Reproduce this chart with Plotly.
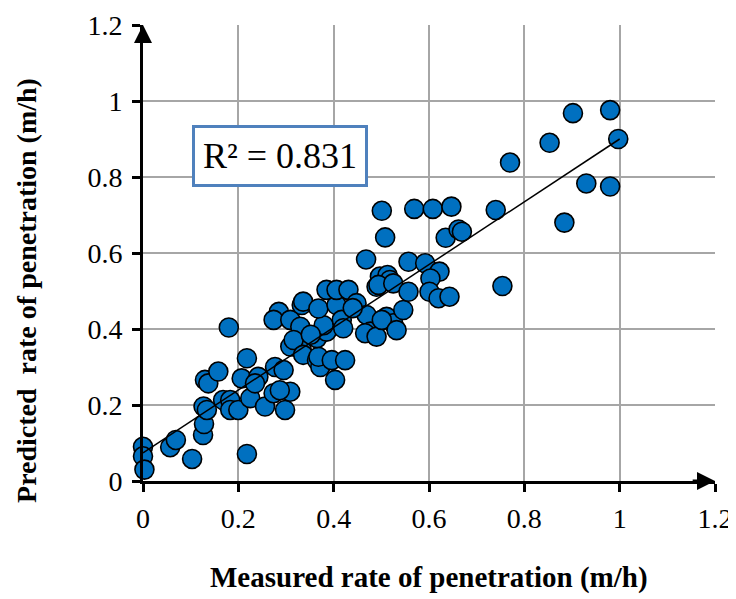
import plotly.graph_objects as go

# Measured vs predicted rate of penetration (m/h)
measured = [
    0.000, 0.000, 0.003, 0.057, 0.069, 0.103, 0.126, 0.128, 0.127, 0.134,
    0.130, 0.137, 0.158, 0.168, 0.183, 0.183, 0.200, 0.180, 0.207, 0.218,
    0.218, 0.225, 0.242, 0.235, 0.256, 0.274, 0.277, 0.295, 0.298, 0.309,
    0.287, 0.285, 0.274, 0.309, 0.330, 0.333, 0.316, 0.333, 0.309, 0.316,
    0.336, 0.336, 0.365, 0.372, 0.368, 0.396, 0.424, 0.403, 0.365, 0.385,
    0.379, 0.368, 0.406, 0.417, 0.420, 0.385, 0.406, 0.431, 0.448, 0.469,
    0.477, 0.466, 0.490, 0.490, 0.468, 0.511, 0.525, 0.501, 0.532, 0.546,
    0.497, 0.513, 0.518, 0.494, 0.525, 0.501, 0.508, 0.557, 0.592, 0.622,
    0.603, 0.557, 0.601, 0.620, 0.643, 0.569, 0.608, 0.647, 0.635, 0.662,
    0.669, 0.740, 0.754, 0.770, 0.853, 0.902, 0.980, 0.997, 0.930, 0.980,
    0.884, 0.352, 0.440,
]
predicted = [
    0.090, 0.065, 0.030, 0.089, 0.108, 0.058, 0.121, 0.150, 0.196, 0.187,
    0.266, 0.257, 0.288, 0.213, 0.213, 0.187, 0.187, 0.404, 0.270, 0.323,
    0.071, 0.218, 0.274, 0.257, 0.196, 0.231, 0.300, 0.292, 0.187, 0.235,
    0.239, 0.445, 0.424, 0.424, 0.406, 0.463, 0.354, 0.345, 0.354, 0.371,
    0.472, 0.332, 0.318, 0.300, 0.327, 0.318, 0.318, 0.266, 0.376, 0.393,
    0.410, 0.454, 0.463, 0.424, 0.402, 0.503, 0.503, 0.503, 0.468, 0.437,
    0.393, 0.389, 0.380, 0.511, 0.583, 0.432, 0.415, 0.424, 0.397, 0.450,
    0.538, 0.542, 0.529, 0.516, 0.520, 0.711, 0.641, 0.577, 0.573, 0.551,
    0.533, 0.498, 0.498, 0.481, 0.485, 0.716, 0.716, 0.722, 0.640, 0.662,
    0.656, 0.713, 0.513, 0.838, 0.890, 0.968, 0.976, 0.900, 0.783, 0.775,
    0.680, 0.385, 0.455,
]

# Linear trend line endpoints
trend_x = [0.0, 1.0]
trend_y = [0.074, 0.900]

r2_label = "R² = 0.831"
tick_vals = [0, 0.2, 0.4, 0.6, 0.8, 1.0, 1.2]
tick_text = ["0", "0.2", "0.4", "0.6", "0.8", "1", "1.2"]

serif = "Liberation Serif"

fig = go.Figure()
fig.add_trace(go.Scatter(
    x=measured, y=predicted, mode="markers",
    marker=dict(size=19, color="#0070C0", line=dict(color="black", width=1.6)),
    showlegend=False, cliponaxis=False,
))
fig.add_trace(go.Scatter(
    x=trend_x, y=trend_y, mode="lines",
    line=dict(color="black", width=1.5), showlegend=False,
))

axis_common = dict(
    range=[0, 1.2], tickvals=tick_vals, ticktext=tick_text,
    showgrid=True, gridcolor="#A6A6A6", gridwidth=1.5,
    zeroline=False, showline=True, linecolor="black", linewidth=3,
    ticks="outside", ticklen=8, tickwidth=3, tickcolor="black",
    tickfont=dict(family=serif, size=28, color="black"),
    automargin=False,
)
fig.update_xaxes(**axis_common, ticklabelstandoff=2)
fig.update_yaxes(**axis_common, ticklabelstandoff=4)

fig.update_layout(
    width=728, height=591,
    margin=dict(l=135, r=21, t=17, b=118),
    paper_bgcolor="white", plot_bgcolor="white",
    font=dict(family=serif, size=28, color="black"),
    annotations=[
        dict(x=0.2866, y=0.855, xref="x", yref="y", text=r2_label, showarrow=False,
             font=dict(family=serif, size=36, color="black"),
             bordercolor="#4F81BD", borderwidth=3, borderpad=8, bgcolor="white"),
        dict(x=0.5, y=-0.2127, xref="paper", yref="paper",
             xanchor="center", yanchor="middle",
             text="<b>Measured rate of penetration (m/h)</b>", showarrow=False,
             font=dict(family=serif, size=29, color="black")),
        dict(x=-0.2028, y=0.419, xref="paper", yref="paper", textangle=-90,
             xanchor="center", yanchor="middle",
             text="<b>Predicted  rate of penetration (m/h)</b>", showarrow=False,
             font=dict(family=serif, size=28, color="black")),
        # axis arrows
        dict(x=0, y=1.2, ax=0, ay=1.15, xref="x", yref="y", axref="x", ayref="y",
             showarrow=True, arrowhead=2, arrowsize=1.2, arrowwidth=3, arrowcolor="black", text=""),
        dict(x=1.2, y=0, ax=1.15, ay=0, xref="x", yref="y", axref="x", ayref="y",
             showarrow=True, arrowhead=2, arrowsize=1.2, arrowwidth=3, arrowcolor="black", text=""),
    ],
)

fig.write_html("out.html")
